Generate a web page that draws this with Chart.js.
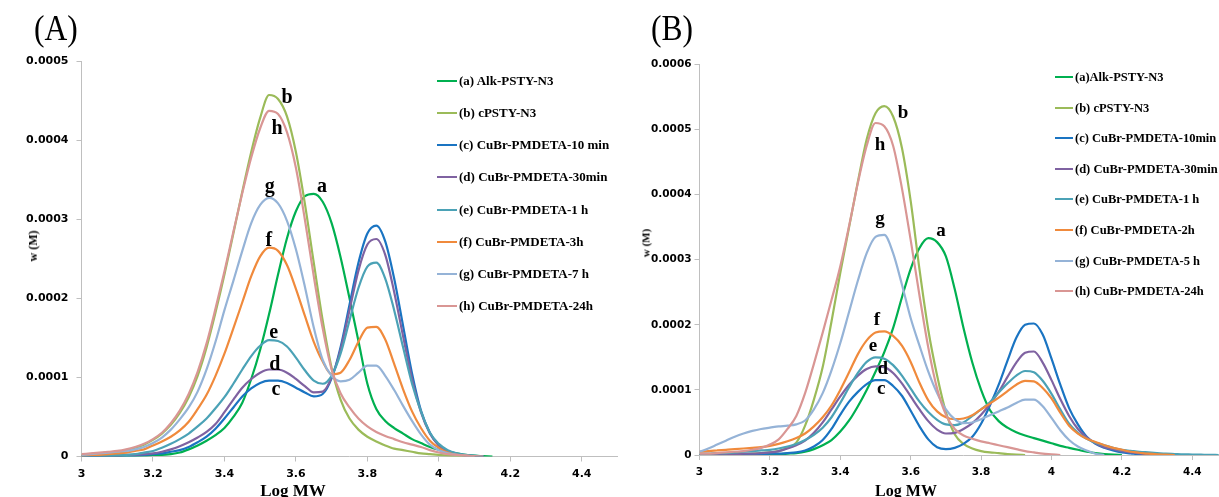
<!DOCTYPE html>
<html lang="en">
<head>
<meta charset="UTF-8">
<title>GPC traces vs Log MW</title>
<script src="https://cdn.jsdelivr.net/npm/chart.js"></script>
<style>
    body { margin: 0; background: #fff; }
    #wrap { position: relative; width: 1219px; height: 497px; overflow: hidden; background: #fff; }
    canvas { position: absolute; top: 0; }
    #chartA { left: 0; }
    #chartB { left: 630px; }
    .tag { position: absolute; font-family: 'Liberation Serif', serif; font-size: 35px; line-height: 35px;
           transform: scaleX(0.9); transform-origin: left top; color: #000; }
    .ytitle { position: absolute; font-family: 'Liberation Serif', serif; font-weight: bold; line-height: 1;
              white-space: nowrap; transform: translate(-50%, -50%) rotate(-90deg); color: #000; }
    .xtitle { position: absolute; font-family: 'Liberation Serif', serif; font-weight: bold; line-height: 1;
              white-space: nowrap; transform: translateX(-50%); color: #000; }
    .lg-line { position: absolute; height: 2px; }
    .lg-text { position: absolute; font-family: 'Liberation Serif', serif; font-weight: bold; white-space: nowrap;
               line-height: 16px; height: 16px; color: #000; }
</style>
</head>
<body>
<div id="wrap">
    <canvas id="chartA" width="620" height="497"></canvas>
    <canvas id="chartB" width="600" height="497"></canvas>

    <div class="tag" style="left:34px; top:11px;">(A)</div>
    <div class="tag" style="left:651px; top:11px;">(B)</div>

    <div class="ytitle" style="left:33px; top:246px; font-size:12px;">w (M)</div>
    <div class="ytitle" style="left:646px; top:243px; font-size:11px;">w (M)</div>

    <div class="xtitle" style="left:293px; top:482px; font-size:17px;">Log MW</div>
    <div class="xtitle" style="left:906px; top:483px; font-size:16px;">Log MW</div>

    <div id="legendA"></div>
    <div id="legendB"></div>
</div>

<script>
    // values of w are given in units of 1e-4
    const Y_UNIT = 1e-4;

    const logMW_A = [3.000, 3.025, 3.050, 3.075, 3.100, 3.125, 3.150, 3.175, 3.200, 3.225,
                     3.250, 3.275, 3.300, 3.325, 3.350, 3.375, 3.400, 3.425, 3.450, 3.475,
                     3.500, 3.525, 3.550, 3.575, 3.600, 3.625, 3.650, 3.675, 3.700, 3.725,
                     3.750, 3.775, 3.800, 3.825, 3.850, 3.875, 3.900, 3.925, 3.950, 3.975,
                     4.000, 4.025, 4.050, 4.075, 4.100, 4.125, 4.150];

    const logMW_B = [3.000, 3.025, 3.050, 3.075, 3.100, 3.125, 3.150, 3.175, 3.200, 3.225,
                     3.250, 3.275, 3.300, 3.325, 3.350, 3.375, 3.400, 3.425, 3.450, 3.475,
                     3.500, 3.525, 3.550, 3.575, 3.600, 3.625, 3.650, 3.675, 3.700, 3.725,
                     3.750, 3.775, 3.800, 3.825, 3.850, 3.875, 3.900, 3.925, 3.950, 3.975,
                     4.000, 4.025, 4.050, 4.075, 4.100, 4.125, 4.150, 4.175, 4.200, 4.225,
                     4.250, 4.275, 4.300, 4.325, 4.350, 4.375, 4.400, 4.425, 4.450, 4.475];

    // ---- panel (A) ----
    const A_alk = [0, 0, 0, 0, 0.005, 0.01, 0.01, 0.01, 0.02, 0.02,
                   0.03, 0.05, 0.09, 0.14, 0.20, 0.27, 0.36, 0.50, 0.68, 0.98,
                   1.35, 1.80, 2.30, 2.76, 3.10, 3.29, 3.32, 3.22, 2.95, 2.52,
                   2.00, 1.46, 0.92, 0.60, 0.45, 0.36, 0.29, 0.22, 0.17, 0.12,
                   0.085, 0.06, 0.04, 0.02, 0.01, 0.005, 0];
    const A_cpsty = [0.02, 0.03, 0.04, 0.05, 0.06, 0.08, 0.11, 0.15, 0.21, 0.29,
                     0.40, 0.55, 0.75, 1.02, 1.38, 1.82, 2.30, 2.82, 3.35, 3.85,
                     4.28, 4.57, 4.52, 4.30, 3.85, 3.20, 2.45, 1.72, 1.12, 0.72,
                     0.48, 0.34, 0.25, 0.19, 0.14, 0.10, 0.08, 0.06, 0.04, 0.03,
                     0.02, 0.01, 0.005, 0];
    const A_10min = [0, 0, 0, 0.01, 0.01, 0.01, 0.01, 0.02, 0.03, 0.04,
                     0.06, 0.08, 0.12, 0.18, 0.25, 0.35, 0.48, 0.62, 0.76, 0.86,
                     0.93, 0.96, 0.96, 0.93, 0.87, 0.81, 0.76, 0.79, 0.99, 1.38,
                     1.92, 2.45, 2.82, 2.92, 2.72, 2.25, 1.65, 1.05, 0.58, 0.30,
                     0.14, 0.07, 0.03, 0.015, 0.005, 0];
    const A_30min = [0, 0, 0.01, 0.01, 0.01, 0.02, 0.02, 0.03, 0.04, 0.06,
                     0.09, 0.13, 0.18, 0.24, 0.31, 0.41, 0.56, 0.72, 0.87, 0.98,
                     1.06, 1.10, 1.10, 1.06, 0.98, 0.89, 0.81, 0.82, 1.00, 1.35,
                     1.85, 2.35, 2.68, 2.75, 2.55, 2.08, 1.52, 0.98, 0.56, 0.29,
                     0.14, 0.07, 0.035, 0.015, 0.005, 0];
    const A_1h = [0, 0.01, 0.01, 0.01, 0.02, 0.02, 0.03, 0.05, 0.07, 0.11,
                  0.16, 0.22, 0.29, 0.38, 0.48, 0.61, 0.75, 0.92, 1.10, 1.27,
                  1.40, 1.47, 1.46, 1.39, 1.25, 1.09, 0.96, 0.92, 1.02, 1.30,
                  1.72, 2.13, 2.40, 2.45, 2.25, 1.85, 1.38, 0.92, 0.57, 0.30,
                  0.16, 0.08, 0.04, 0.02, 0.01, 0];
    const A_3h = [0.01, 0.02, 0.02, 0.03, 0.04, 0.05, 0.07, 0.09, 0.14, 0.19,
                  0.25, 0.33, 0.44, 0.60, 0.78, 1.02, 1.30, 1.62, 1.95, 2.28,
                  2.53, 2.64, 2.60, 2.42, 2.12, 1.78, 1.45, 1.20, 1.04, 1.06,
                  1.22, 1.45, 1.63, 1.64, 1.48, 1.17, 0.85, 0.57, 0.36, 0.20,
                  0.11, 0.05, 0.02, 0.01, 0];
    const A_7h = [0.02, 0.03, 0.04, 0.05, 0.06, 0.07, 0.09, 0.12, 0.17, 0.24,
                  0.34, 0.47, 0.62, 0.82, 1.10, 1.45, 1.85, 2.22, 2.60, 2.95,
                  3.18, 3.27, 3.20, 2.98, 2.62, 2.15, 1.63, 1.22, 1.02, 0.95,
                  0.97, 1.06, 1.15, 1.15, 1.02, 0.84, 0.64, 0.45, 0.28, 0.15,
                  0.08, 0.04, 0.02, 0.01, 0];
    const A_24h = [0.03, 0.04, 0.05, 0.06, 0.07, 0.09, 0.12, 0.16, 0.22, 0.30,
                   0.42, 0.58, 0.79, 1.07, 1.43, 1.87, 2.34, 2.84, 3.33, 3.78,
                   4.15, 4.37, 4.33, 4.10, 3.65, 3.00, 2.28, 1.62, 1.10, 0.80,
                   0.62, 0.48, 0.38, 0.31, 0.26, 0.22, 0.18, 0.15, 0.12, 0.08,
                   0.05, 0.03, 0.02, 0.01, 0.005, 0];

    // ---- panel (B) ----
    const B_alk = [0, 0, 0, 0, 0, 0, 0.005, 0.01, 0.01, 0.01,
                   0.02, 0.03, 0.05, 0.09, 0.15, 0.23, 0.36, 0.53, 0.75, 1.00,
                   1.28, 1.58, 1.95, 2.42, 2.86, 3.18, 3.33, 3.27, 3.05, 2.55,
                   1.95, 1.42, 1.00, 0.69, 0.52, 0.42, 0.35, 0.30, 0.26, 0.22,
                   0.18, 0.14, 0.11, 0.08, 0.05, 0.03, 0.015, 0.005, 0];
    const B_cpsty = [0, 0, 0, 0.005, 0.01, 0.01, 0.02, 0.03, 0.04, 0.06,
                     0.11, 0.19, 0.45, 0.85, 1.35, 2.05, 2.80, 3.50, 4.20, 4.85,
                     5.25, 5.36, 5.20, 4.72, 3.90, 2.85, 1.92, 1.22, 0.66, 0.32,
                     0.17, 0.10, 0.06, 0.04, 0.03, 0.015, 0.005, 0];
    const B_10min = [0, 0, 0, 0, 0.005, 0.01, 0.01, 0.01, 0.02, 0.02,
                     0.03, 0.04, 0.07, 0.13, 0.23, 0.40, 0.62, 0.82, 0.97, 1.09,
                     1.15, 1.15, 1.06, 0.91, 0.68, 0.44, 0.24, 0.12, 0.09, 0.11,
                     0.17, 0.28, 0.48, 0.76, 1.08, 1.45, 1.80, 2.00, 2.02, 1.85,
                     1.48, 1.08, 0.72, 0.47, 0.28, 0.17, 0.11, 0.07, 0.04, 0.025,
                     0.01, 0.005, 0];
    const B_30min = [0, 0, 0.01, 0.01, 0.01, 0.02, 0.02, 0.03, 0.04, 0.06,
                     0.10, 0.15, 0.22, 0.34, 0.50, 0.70, 0.90, 1.08, 1.22, 1.32,
                     1.36, 1.35, 1.26, 1.10, 0.90, 0.70, 0.52, 0.39, 0.33, 0.34,
                     0.40, 0.49, 0.62, 0.78, 0.97, 1.20, 1.42, 1.57, 1.59, 1.42,
                     1.15, 0.86, 0.60, 0.40, 0.27, 0.18, 0.12, 0.09, 0.06, 0.04,
                     0.025, 0.015, 0.01, 0.005, 0];
    const B_1h = [0.02, 0.02, 0.03, 0.03, 0.04, 0.05, 0.06, 0.07, 0.08, 0.10,
                  0.13, 0.17, 0.23, 0.31, 0.42, 0.58, 0.80, 1.04, 1.26, 1.43,
                  1.50, 1.48, 1.38, 1.22, 1.02, 0.82, 0.66, 0.54, 0.47, 0.46,
                  0.50, 0.60, 0.70, 0.81, 0.96, 1.10, 1.22, 1.29, 1.27, 1.14,
                  0.94, 0.70, 0.48, 0.34, 0.25, 0.19, 0.15, 0.11, 0.08, 0.065,
                  0.05, 0.04, 0.03, 0.02, 0.015, 0.01, 0.008, 0.005, 0.002, 0];
    const B_2h = [0.05, 0.06, 0.07, 0.08, 0.09, 0.10, 0.11, 0.12, 0.14, 0.17,
                  0.21, 0.26, 0.33, 0.44, 0.58, 0.76, 1.00, 1.27, 1.55, 1.76,
                  1.88, 1.90, 1.83, 1.68, 1.43, 1.11, 0.84, 0.67, 0.58, 0.55,
                  0.56, 0.61, 0.70, 0.79, 0.88, 0.98, 1.08, 1.14, 1.13, 1.03,
                  0.87, 0.65, 0.45, 0.33, 0.25, 0.20, 0.15, 0.11, 0.08, 0.05,
                  0.035, 0.02, 0.01, 0.005, 0];
    const B_5h = [0.05, 0.10, 0.16, 0.22, 0.28, 0.33, 0.37, 0.40, 0.42, 0.44,
                  0.45, 0.47, 0.53, 0.70, 0.95, 1.30, 1.72, 2.20, 2.68, 3.10,
                  3.35, 3.38, 3.10, 2.62, 2.10, 1.68, 1.28, 0.95, 0.70, 0.55,
                  0.49, 0.50, 0.55, 0.61, 0.67, 0.73, 0.80, 0.85, 0.85, 0.75,
                  0.57, 0.38, 0.23, 0.13, 0.07, 0.02, 0];
    const B_24h = [0.02, 0.02, 0.03, 0.04, 0.05, 0.06, 0.08, 0.11, 0.16, 0.24,
                   0.40, 0.60, 0.95, 1.40, 1.88, 2.38, 2.90, 3.52, 4.18, 4.75,
                   5.10, 5.05, 4.75, 4.10, 3.30, 2.45, 1.65, 1.02, 0.62, 0.40,
                   0.30, 0.25, 0.21, 0.18, 0.15, 0.12, 0.09, 0.06, 0.04, 0.02,
                   0.01, 0];

    const labelsA = ['(a) Alk-PSTY-N3', '(b) cPSTY-N3', '(c) CuBr-PMDETA-10 min', '(d) CuBr-PMDETA-30min',
                     '(e) CuBr-PMDETA-1 h', '(f) CuBr-PMDETA-3h', '(g) CuBr-PMDETA-7 h', '(h) CuBr-PMDETA-24h'];
    const labelsB = ['(a)Alk-PSTY-N3', '(b) cPSTY-N3', '(c) CuBr-PMDETA-10min', '(d) CuBr-PMDETA-30min',
                     '(e) CuBr-PMDETA-1 h', '(f) CuBr-PMDETA-2h', '(g) CuBr-PMDETA-5 h', '(h) CuBr-PMDETA-24h'];

    const xTicks = [3, 3.2, 3.4, 3.6, 3.8, 4, 4.2, 4.4];
    const xTickLabels = ['3', '3.2', '3.4', '3.6', '3.8', '4', '4.2', '4.4'];
    const yTicksA = [0, 0.0001, 0.0002, 0.0003, 0.0004, 0.0005];
    const yTickLabelsA = ['0', '0.0001', '0.0002', '0.0003', '0.0004', '0.0005'];
    const yTicksB = [0, 0.0001, 0.0002, 0.0003, 0.0004, 0.0005, 0.0006];
    const yTickLabelsB = ['0', '0.0001', '0.0002', '0.0003', '0.0004', '0.0005', '0.0006'];

    // curve letters and where they sit (Log MW, w in 1e-4)
    const peakLetters = ['a', 'b', 'c', 'd', 'e', 'f', 'g', 'h'];
    const letterXA = [3.673, 3.575, 3.544, 3.541, 3.538, 3.524, 3.527, 3.547];
    const letterYA = [3.41, 4.57, 0.84, 1.19, 1.56, 2.76, 3.38, 4.17];
    const letterXB = [3.686, 3.578, 3.516, 3.521, 3.493, 3.504, 3.513, 3.513];
    const letterYB = [3.44, 5.27, 1.00, 1.34, 1.66, 2.10, 3.59, 4.79];

    const seriesColors = ['#00b050', '#9bbb59', '#1a74c2', '#7f62a1', '#4ba2b6', '#f08a3c', '#95b3d7', '#d99694'];
    const axisGrey = '#bfbfbf';

    const peakLetterPlugin = {
        id: 'peakLetters',
        afterDatasetsDraw(chart, args, opts) {
            const ctx = chart.ctx;
            const sx = chart.scales.x, sy = chart.scales.y;
            ctx.save();
            ctx.font = 'bold ' + opts.size + 'px "Liberation Serif"';
            ctx.fillStyle = '#000';
            ctx.textAlign = 'center';
            ctx.textBaseline = 'alphabetic';
            opts.letters.forEach(function (t, i) {
                const m = ctx.measureText(t);
                const px = sx.getPixelForValue(opts.x[i]);
                const py = sy.getPixelForValue(opts.y[i] * Y_UNIT) +
                           (m.actualBoundingBoxAscent - m.actualBoundingBoxDescent) / 2;
                ctx.fillText(t, px, py);
            });
            ctx.restore();
        }
    };

    function makePanel(id, p) {
        const datasets = p.series.map(function (ys, i) {
            return {
                label: p.labels[i],
                data: ys.map(function (v, k) { return { x: p.x[k], y: v * Y_UNIT }; }),
                borderColor: seriesColors[i],
                backgroundColor: seriesColors[i],
                borderWidth: 2.2,
                pointRadius: 0,
                fill: false,
                cubicInterpolationMode: 'monotone',
                order: p.series.length - i
            };
        });
        const tickFont = { family: 'DejaVu Sans', size: p.tickSize, weight: 'bold' };

        return new Chart(document.getElementById(id), {
            type: 'line',
            data: { datasets: datasets },
            options: {
                responsive: false,
                animation: false,
                events: [],
                layout: { padding: { left: 0, right: p.padRight, top: p.padTop, bottom: 0 } },
                plugins: {
                    legend: { display: false },
                    tooltip: { enabled: false },
                    peakLetters: { letters: peakLetters, x: p.letterX, y: p.letterY, size: p.letterSize }
                },
                scales: {
                    x: {
                        type: 'linear', min: 3, max: 4.5,
                        afterBuildTicks: function (s) { s.ticks = xTicks.map(function (v) { return { value: v }; }); },
                        afterFit: function (s) { s.height = p.xHeight; },
                        ticks: {
                            autoSkip: false, maxRotation: 0, padding: 6, color: '#000', font: tickFont,
                            callback: function (v) { return xTickLabels[xTicks.indexOf(v)]; }
                        },
                        grid: { drawOnChartArea: false, tickLength: 5, color: axisGrey },
                        border: { color: axisGrey, width: 1 }
                    },
                    y: {
                        min: 0, max: p.yMax,
                        afterBuildTicks: function (s) { s.ticks = p.yTicks.map(function (v) { return { value: v }; }); },
                        afterFit: function (s) { s.width = p.yWidth; },
                        ticks: {
                            padding: p.yPad, color: '#000', font: tickFont,
                            callback: function (v) { return p.yTickLabels[p.yTicks.indexOf(v)]; }
                        },
                        grid: { drawOnChartArea: false, tickLength: 5, color: axisGrey },
                        border: { color: axisGrey, width: 1 }
                    }
                }
            },
            plugins: [peakLetterPlugin]
        });
    }

    function buildLegend(elId, labels, lineX, lineW, textX, firstY, stepY, fontSize) {
        let html = '';
        labels.forEach(function (txt, i) {
            const cy = firstY + i * stepY;
            html += '<div class="lg-line" style="left:' + lineX + 'px;top:' + (cy - 1) + 'px;width:' + lineW +
                    'px;background:' + seriesColors[i] + '"></div>';
            html += '<div class="lg-text" style="left:' + textX + 'px;top:' + (cy - 8) + 'px;font-size:' +
                    fontSize + 'px">' + txt + '</div>';
        });
        document.getElementById(elId).innerHTML = html;
    }

    makePanel('chartA', {
        x: logMW_A,
        series: [A_alk, A_cpsty, A_10min, A_30min, A_1h, A_3h, A_7h, A_24h],
        labels: labelsA,
        yMax: 0.0005, yTicks: yTicksA, yTickLabels: yTickLabelsA,
        yWidth: 81.5, yPad: 8, xHeight: 40.5, padTop: 61, padRight: 2.5,
        tickSize: 11, letterSize: 20,
        letterX: letterXA, letterY: letterYA
    });

    makePanel('chartB', {
        x: logMW_B,
        series: [B_alk, B_cpsty, B_10min, B_30min, B_1h, B_2h, B_5h, B_24h],
        labels: labelsB,
        yMax: 0.0006, yTicks: yTicksB, yTickLabels: yTickLabelsB,
        yWidth: 69.5, yPad: 3, xHeight: 42, padTop: 64.4, padRight: 2.5,
        tickSize: 10.5, letterSize: 19,
        letterX: letterXB, letterY: letterYB
    });

    buildLegend('legendA', labelsA, 437, 20, 459, 80.7, 32.25, 13);
    buildLegend('legendB', labelsB, 1055, 18, 1075, 77, 30.6, 12.5);
</script>
</body>
</html>
